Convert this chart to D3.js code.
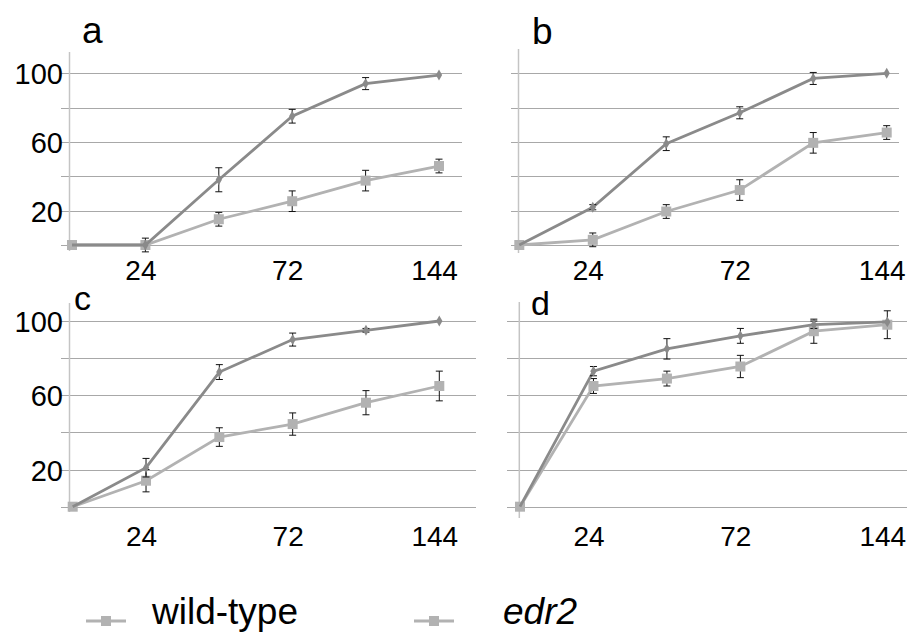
<!DOCTYPE html>
<html>
<head>
<meta charset="utf-8">
<script src="https://cdnjs.cloudflare.com/ajax/libs/d3/7.8.5/d3.min.js"></script>
<style>
  body { margin: 0; background: #fff; }
  svg { display: block; font-family: "Liberation Sans", Arial, sans-serif; }
</style>
</head>
<body>
<div id="chart"></div>
<script>
// time points (hours) and labels
const timePoints = ["0", "24", "48", "72", "96", "144"];
const xTickLabels = ["24", "72", "144"];
const gridValues = [0, 20, 40, 60, 80, 100];
const yTickLabels = [20, 60, 100];
const panelNames = ["a", "b", "c", "d"];
const seriesNames = ["wild-type", "edr2"];

// panel a
const wtA = [0, 0, 38, 75, 94, 99];
const wtAErr = [0, 4, 7, 4, 3.5, 0.5];
const edrA = [0, 0, 15, 25.5, 37.5, 46];
const edrAErr = [0, 2, 4, 6, 6, 4];
// panel b
const wtB = [0, 22, 59, 77, 97, 100];
const wtBErr = [0, 1.5, 4, 3.5, 3.5, 0.5];
const edrB = [0, 3, 19.5, 32, 59.5, 65.5];
const edrBErr = [0, 4, 4, 6, 6, 4];
// panel c
const wtC = [0, 21, 72.5, 90, 95, 100];
const wtCErr = [0, 5, 4, 3.5, 1, 0.5];
const edrC = [0, 14, 37.5, 44.5, 56, 65];
const edrCErr = [0, 6, 5, 6, 6.5, 8];
// panel d
const wtD = [0, 73, 85, 92, 98, 99.5];
const wtDErr = [0, 2.5, 5.5, 4, 2, 0.5];
const edrD = [0, 65, 69, 75.5, 94.5, 98];
const edrDErr = [0, 4, 4, 6, 6.5, 7.5];

const panelData = [
  [[wtA, wtAErr], [edrA, edrAErr]],
  [[wtB, wtBErr], [edrB, edrBErr]],
  [[wtC, wtCErr], [edrC, edrCErr]],
  [[wtD, wtDErr], [edrD, edrDErr]]
];

const width = 907, height = 635;
const wtColor = "#8a8a8a";
const edrColor = "#b2b2b2";
const gridColor = "#a8a8a8";

// panel layout
const layouts = [
  { px0: 72, px1: 439, axisX: 69.5, gridL: 61, gridR: 462, y0: 245, y100: 73.3, axTop: 52, axBot: 251, lx: 82, ly: 43, tickY: 280, showY: true, lsize: 37 },
  { px0: 519.3, px1: 886.7, axisX: 518.5, gridL: 511, gridR: 899, y0: 245, y100: 73.3, axTop: 49, axBot: 253, lx: 532, ly: 44, tickY: 280, showY: false, lsize: 37 },
  { px0: 72.7, px1: 439.3, axisX: 69.5, gridL: 61, gridR: 476, y0: 506.7, y100: 321, axTop: 303, axBot: 512, lx: 74, ly: 310, tickY: 546, showY: true, lsize: 34 },
  { px0: 520, px1: 887.3, axisX: 519.3, gridL: 507, gridR: 907, y0: 506.7, y100: 321, axTop: 302, axBot: 518, lx: 531, ly: 315, tickY: 546, showY: false, lsize: 34 }
];

const svg = d3.select("#chart").append("svg")
  .attr("width", width)
  .attr("height", height);

svg.append("rect").attr("width", width).attr("height", height).attr("fill", "#fff");

panelNames.forEach((name, i) => {
  const L = layouts[i];
  const x = d3.scalePoint().domain(timePoints).range([L.px0, L.px1]);
  const y = d3.scaleLinear().domain([0, 100]).range([L.y0, L.y100]);
  const g = svg.append("g");

  // gridlines
  g.selectAll(".grid")
    .data(gridValues)
    .enter()
    .append("line")
    .attr("x1", L.gridL)
    .attr("x2", L.gridR)
    .attr("y1", d => Math.round(y(d)) + 0.5)
    .attr("y2", d => Math.round(y(d)) + 0.5)
    .attr("stroke", gridColor)
    .attr("stroke-width", 1.2);

  // vertical axis line
  g.append("line")
    .attr("x1", L.axisX).attr("x2", L.axisX)
    .attr("y1", L.axTop).attr("y2", L.axBot)
    .attr("stroke", "#c4c4c4")
    .attr("stroke-width", 1.5);

  // y tick labels
  if (L.showY) {
    const yAxis = g.append("g")
      .attr("transform", `translate(${L.gridL + 2},0)`)
      .call(d3.axisLeft(y).tickValues(yTickLabels).tickSize(0).tickPadding(0));
    yAxis.select(".domain").remove();
    yAxis.selectAll("text")
      .style("font-size", "29px")
      .style("font-family", "'Liberation Sans', Arial, sans-serif")
      .attr("fill", "#000")
      .attr("dy", "0.36em");
  }

  // x tick labels
  const xAxis = g.append("g")
    .attr("transform", `translate(-5,${L.tickY})`)
    .call(d3.axisBottom(x).tickValues(xTickLabels).tickSize(0).tickPadding(0));
  xAxis.select(".domain").remove();
  xAxis.selectAll("text")
    .style("font-size", "28px")
    .style("font-family", "'Liberation Sans', Arial, sans-serif")
    .attr("fill", "#000")
    .attr("dy", 0);

  // panel letter
  g.append("text")
    .attr("x", L.lx)
    .attr("y", L.ly)
    .style("font-size", L.lsize + "px")
    .text(name);

  const line = d3.line().x((d, j) => x(timePoints[j])).y(d => y(d));

  // draw edr2 first, wild-type on top
  [1, 0].forEach(s => {
    const vals = panelData[i][s][0];
    const errs = panelData[i][s][1];
    const color = s === 0 ? wtColor : edrColor;
    const pts = vals.map((v, j) => ({ t: timePoints[j], v: v, e: errs[j] }));

    g.append("path")
      .datum(vals)
      .attr("d", line)
      .attr("fill", "none")
      .attr("stroke", color)
      .attr("stroke-width", 2.8);

    // error bars
    const eb = g.selectAll(".eb" + s)
      .data(pts.filter(d => d.e > 0.6))
      .enter()
      .append("g");
    eb.append("line")
      .attr("x1", d => x(d.t)).attr("x2", d => x(d.t))
      .attr("y1", d => y(d.v - d.e)).attr("y2", d => y(d.v + d.e))
      .attr("stroke", "#111").attr("stroke-width", 1);
    [-1, 1].forEach(sign => {
      eb.append("line")
        .attr("x1", d => x(d.t) - 3.5).attr("x2", d => x(d.t) + 3.5)
        .attr("y1", d => y(d.v + sign * d.e)).attr("y2", d => y(d.v + sign * d.e))
        .attr("stroke", "#111").attr("stroke-width", 1);
    });

    // markers
    if (s === 1) {
      g.selectAll(".sq")
        .data(pts)
        .enter()
        .append("rect")
        .attr("x", d => x(d.t) - 5)
        .attr("y", d => y(d.v) - 5)
        .attr("width", 10)
        .attr("height", 10)
        .attr("fill", edrColor);
    } else {
      g.selectAll(".dm")
        .data(pts.slice(1))
        .enter()
        .append("path")
        .attr("transform", d => `translate(${x(d.t)},${y(d.v)})`)
        .attr("d", d3.symbol().type(d3.symbolDiamond).size(34)())
        .attr("fill", wtColor);
    }
  });
});

// legend
const legendX = [86, 414];
const legendTextX = [152, 503];
const legend = svg.append("g");
seriesNames.forEach((name, i) => {
  legend.append("line")
    .attr("x1", legendX[i]).attr("x2", legendX[i] + 40)
    .attr("y1", 621).attr("y2", 621)
    .attr("stroke", edrColor).attr("stroke-width", 3);
  legend.append("rect")
    .attr("x", legendX[i] + 15).attr("y", 616)
    .attr("width", 10).attr("height", 10)
    .attr("fill", edrColor);
  legend.append("text")
    .attr("x", legendTextX[i])
    .attr("y", 624)
    .style("font-size", "37px")
    .style("font-style", i === 1 ? "italic" : "normal")
    .text(name);
});
</script>
</body>
</html>
